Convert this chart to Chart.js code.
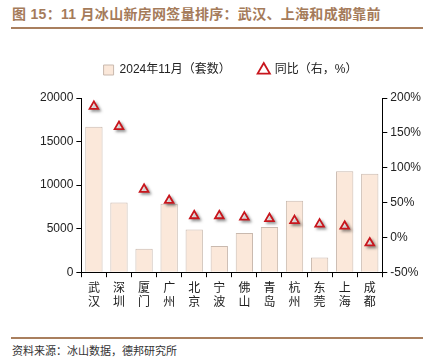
<!DOCTYPE html>
<html>
<head>
<meta charset="utf-8">
<script src="https://cdn.jsdelivr.net/npm/chart.js@4.4.1/dist/chart.umd.min.js"></script>
<style>
  body { margin: 0; background: #fff; width: 430px; height: 362px; position: relative; overflow: hidden; font-family: "Liberation Sans", "Noto Sans CJK SC", sans-serif; }
  #title { position: absolute; left: 12px; top: 3px; font-size: 14px; font-weight: bold; color: #a57b5a; font-family: "Liberation Sans", "Noto Sans CJK SC", sans-serif; letter-spacing: 0.3px; }
  .rule { position: absolute; left: 11px; width: 412px; height: 2px; background: #a97f5e; }
  #src { position: absolute; left: 12px; top: 342px; font-size: 11px; color: #333; font-family: "Noto Sans CJK SC", sans-serif; }
  #wrap { position: absolute; left: 0; top: 36px; width: 430px; height: 276px; }
</style>
</head>
<body>
<div id="title">图 15：11 月冰山新房网签量排序：武汉、上海和成都靠前</div>
<div class="rule" style="top:27px"></div>
<div id="wrap"><canvas id="myChart"></canvas></div>
<div class="rule" style="top:337px"></div>
<div id="src">资料来源：冰山数据，德邦研究所</div>
<script>
var cities = [["武","汉"],["深","圳"],["厦","门"],["广","州"],["北","京"],["宁","波"],["佛","山"],["青","岛"],["杭","州"],["东","莞"],["上","海"],["成","都"]];
var sales = [16700, 8000, 2700, 7850, 4900, 3000, 4500, 5200, 8200, 1700, 11600, 11300];
var yoy = [188, 159, 69, 53, 31, 31, 29, 27, 24, 19, 16, -8];

// little shadow behind the triangles
var shadowPlugin = {
    id: 'shadow',
    afterInit: function(chart){
        // extra room under the legend
        var fit = chart.legend.fit;
        chart.legend.fit = function(){
            fit.call(this);
            this.height += 12;
        };
    },
    beforeDatasetDraw: function(chart, args){
        if(args.index == 1){
            chart.ctx.save();
            chart.ctx.shadowColor = 'rgba(0,0,0,0.35)';
            chart.ctx.shadowBlur = 3;
            chart.ctx.shadowOffsetX = 2;
            chart.ctx.shadowOffsetY = 2;
        }
    },
    afterDatasetDraw: function(chart, args){
        if(args.index == 1){
            chart.ctx.restore();
        }
    }
};

var ctx = document.getElementById("myChart").getContext('2d');
var myChart = new Chart(ctx, {
    type: 'bar',
    data: {
        labels: cities,
        datasets: [{
            label: '2024年11月（套数）',
            data: sales,
            yAxisID: 'y',
            backgroundColor: '#fbe8da',
            borderColor: '#c9b9ae',
            borderWidth: 1,
            barPercentage: 0.69,
            categoryPercentage: 1,
            pointStyle: 'rect',
            order: 2
        }, {
            type: 'line',
            label: '同比（右，%）',
            data: yoy,
            yAxisID: 'y1',
            showLine: false,
            pointStyle: 'triangle',
            pointRadius: 5,
            pointBorderWidth: 1.8,
            pointBorderColor: '#c8161d',
            pointBackgroundColor: '#fff',
            borderColor: '#c8161d',
            backgroundColor: '#fff',
            order: 1
        }]
    },
    options: {
        responsive: true,
        maintainAspectRatio: false,
        animation: false,
        layout: { padding: { left: 37, right: 6, top: 0, bottom: 0 } },
        plugins: {
            legend: {
                position: 'top',
                labels: {
                    usePointStyle: true,
                    boxWidth: 10,
                    boxHeight: 10,
                    padding: 28,
                    color: '#222',
                    font: { family: '"Liberation Sans", "Noto Sans CJK SC"', size: 12 },
                    sort: function(a, b){ return a.datasetIndex - b.datasetIndex; }
                }
            },
            tooltip: { enabled: false }
        },
        scales: {
            x: {
                offset: true,
                grid: { display: true, drawOnChartArea: false, offset: true, tickLength: 5, color: '#000' },
                border: { color: '#000', width: 1 },
                ticks: {
                    color: '#222',
                    maxRotation: 0,
                    autoSkip: false,
                    font: { family: '"Noto Sans CJK SC"', size: 12, lineHeight: 1.2 }
                }
            },
            y: {
                position: 'left',
                min: 0,
                max: 20000,
                ticks: { stepSize: 5000, color: '#222', font: { family: '"Liberation Sans"', size: 12 },
                    callback: function(v){ return '' + v; } },
                grid: { drawOnChartArea: false, tickLength: 5, color: '#000' },
                border: { color: '#000', width: 1 }
            },
            y1: {
                position: 'right',
                min: -50,
                max: 200,
                ticks: {
                    stepSize: 50,
                    color: '#222',
                    font: { family: '"Liberation Sans"', size: 12 },
                    callback: function(v){ return v + '%'; }
                },
                grid: { drawOnChartArea: false, tickLength: 5, color: '#000' },
                border: { color: '#000', width: 1 }
            }
        }
    },
    plugins: [shadowPlugin]
});
</script>
</body>
</html>
